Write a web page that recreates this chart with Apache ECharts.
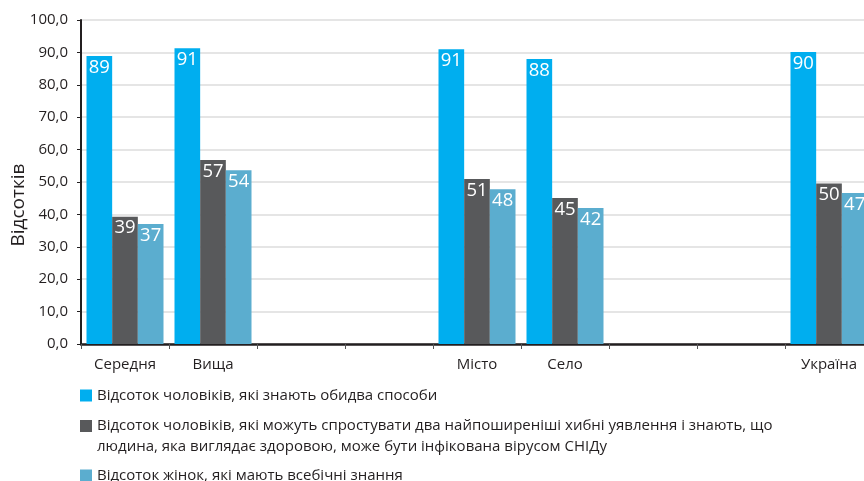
<!DOCTYPE html>
<html><head><meta charset="utf-8">
<script src="https://cdn.jsdelivr.net/npm/echarts@6/dist/echarts.min.js"></script>
<style>html,body{margin:0;padding:0;background:#fff}#c{width:864px;height:481px}</style>
</head><body><div id="c"></div>
<script>
var categories = ['Середня', 'Вища', '', ' ', 'Місто', 'Село', '  ', '   ', 'Україна'];
var seriesNames = [
  'Відсоток чоловіків, які знають обидва способи',
  'Відсоток чоловіків, які можуть спростувати два найпоширеніші хибні уявлення і знають, що\nлюдина, яка виглядає здоровою, може бути інфікована вірусом СНІДу',
  'Відсоток жінок, які мають всебічні знання'
];
var menBoth = [88.9, 91.3, null, null, 91.0, 88.0, null, null, 90.1];
var menMisconceptions = [39.3, 56.8, null, null, 50.9, 45.1, null, null, 49.5];
var womenComprehensive = [37.0, 53.6, null, null, 47.8, 42.0, null, null, 46.6];
var yTicks = [0, 10, 20, 30, 40, 50, 60, 70, 80, 90, 100];
var colors = ['#00aeef', '#58595b', '#5badcf'];
var FONT = 'Open Sans';
var TXT = '#231f20';

var chart = echarts.init(document.getElementById('c'));
function bar(name, data, color) {
  return {
    name: name, type: 'bar', data: data, barGap: 0, barCategoryGap: '12.5%',
    itemStyle: { color: color },
    label: { show: true, position: 'insideTop', distance: 2, color: '#fff',
      fontFamily: FONT, fontSize: 18.5,
      formatter: function (p) { return Math.round(p.value); } }
  };
}
function leg(name, top, fmt) {
  var l = { data: [{ name: name, icon: 'rect' }], left: 80, top: top, orient: 'vertical',
    padding: 0, itemWidth: 12, itemHeight: 12, itemGap: 5, selectedMode: false,
    textStyle: { color: TXT, fontFamily: FONT, fontSize: 15, lineHeight: 21 } };
  if (fmt) l.formatter = fmt;
  return l;
}
chart.setOption({
  animation: false,
  color: colors,
  grid: { left: 81, right: -9, top: 20, bottom: 137, containLabel: false, outerBoundsMode: 'none' },
  legend: [
    leg(seriesNames[0], 385),
    leg(seriesNames[1], 394.5, function (n) { return '\n' + n; }),
    leg(seriesNames[2], 465)
  ],
  xAxis: {
    type: 'category', data: categories,
    axisLine: { lineStyle: { color: TXT, width: 2.5 } },
    axisTick: { show: true, length: 5, lineStyle: { color: '#555', width: 1 } },
    axisLabel: { color: TXT, fontFamily: FONT, fontSize: 15, margin: 13 }
  },
  yAxis: {
    type: 'value', min: yTicks[0], max: yTicks[yTicks.length - 1], interval: 10,
    name: 'Відсотків', nameLocation: 'middle', nameGap: 53, nameRotate: 90,
    nameMoveOverlap: false,
    nameTextStyle: { color: TXT, fontFamily: FONT, fontSize: 19, padding: [0, 46, 0, 0] },
    axisLine: { show: true, lineStyle: { color: TXT, width: 2 } },
    axisTick: { show: true, length: 4, lineStyle: { color: TXT } },
    axisLabel: { color: TXT, fontFamily: FONT, fontSize: 15, margin: 13,
      formatter: function (v) { return v.toFixed(1).replace('.', ','); } },
    splitLine: { lineStyle: { color: '#dcdcdc', width: 1.5 } }
  },
  series: [
    bar(seriesNames[0], menBoth, colors[0]),
    bar(seriesNames[1], menMisconceptions, colors[1]),
    bar(seriesNames[2], womenComprehensive, colors[2])
  ]
});
</script></body></html>
